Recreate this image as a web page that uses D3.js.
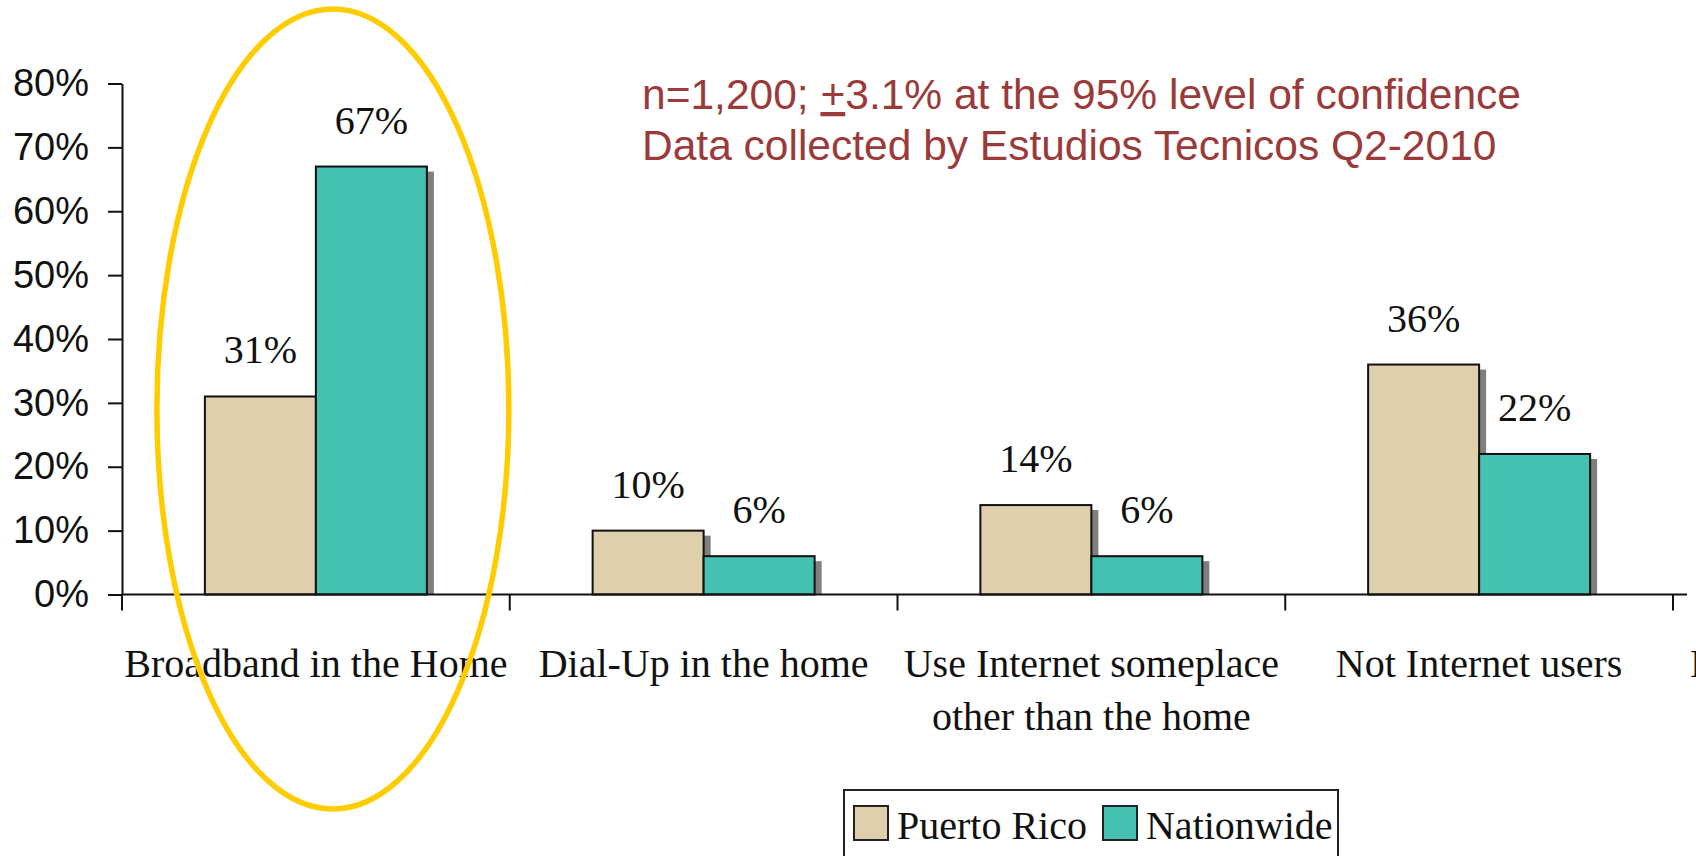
<!DOCTYPE html>
<html>
<head>
<meta charset="utf-8">
<script src="https://cdn.jsdelivr.net/npm/d3@7"></script>
<style>
  body { margin: 0; background: #fff; }
  svg { display: block; }
</style>
</head>
<body>
<svg width="1696" height="856"></svg>
<script>
// Chart data.
const categories = [
  ["Broadband in the Home"],
  ["Dial-Up in the home"],
  ["Use Internet someplace", "other than the home"],
  ["Not Internet users"],
  ["Internet users at home"]   // cut off at the right edge
];
const seriesNames = ["Puerto Rico", "Nationwide"];
const seriesColors = ["#dfcfad", "#45c1b1"];
const puertoRico = [0.31, 0.10, 0.14, 0.36];
const nationwide = [0.67, 0.06, 0.06, 0.22];
const yTicks = [0, 0.1, 0.2, 0.3, 0.4, 0.5, 0.6, 0.7, 0.8];
const noteLines = ["n=1,200; ", "+", "3.1% at the 95% level of confidence"];
const noteLine2 = "Data collected by Estudios Tecnicos Q2-2010";

// Layout.
let svg = d3.select("svg");
let plotLeft = 122, plotTop = 83.5, base = 594.5, band = 387.75, barW = 111;
let axisRight = 1687;
let serif = "'Liberation Serif', 'Times New Roman', serif";
let sans = "'Liberation Sans', Arial, sans-serif";

let x = d3.scaleBand()
  .domain(d3.range(categories.length))
  .range([plotLeft, plotLeft + band * categories.length]);
let xs = d3.scaleBand()
  .domain(d3.range(seriesNames.length))
  .range([band / 2 - barW, band / 2 + barW]);
let y = d3.scaleLinear().domain([0, 0.8]).range([base, plotTop]);

// y axis
let yAxis = svg.append("g")
  .attr("transform", `translate(${plotLeft},0)`)
  .call(d3.axisLeft(y).tickValues(yTicks).tickFormat(d3.format(".0%"))
    .tickSize(14).tickSizeOuter(0).tickPadding(19));
yAxis.select(".domain").attr("stroke", "#111").attr("stroke-width", 2);
yAxis.selectAll(".tick line").attr("stroke", "#111").attr("stroke-width", 2);
yAxis.selectAll(".tick text")
  .attr("font-family", sans).attr("font-size", 38).attr("fill", "#111");

// bars, one group per category
let rows = puertoRico.map((v, i) => [v, nationwide[i]]);
let groups = svg.selectAll("g.cat").data(rows).join("g")
  .attr("class", "cat")
  .attr("transform", (d, i) => `translate(${x(i)},0)`);

groups.each(function (d) {
  let g = d3.select(this);
  d.forEach((v, s) => {
    // drop shadow first
    g.append("rect")
      .attr("x", xs(s) + 7).attr("y", y(v) + 5)
      .attr("width", xs.bandwidth()).attr("height", base - y(v) - 5)
      .attr("fill", "#7f7f7f");
  });
  d.forEach((v, s) => {
    g.append("rect")
      .attr("x", xs(s)).attr("y", y(v))
      .attr("width", xs.bandwidth()).attr("height", base - y(v))
      .attr("fill", seriesColors[s])
      .attr("stroke", "#111").attr("stroke-width", 2);
    g.append("text")
      .attr("x", xs(s) + xs.bandwidth() / 2).attr("y", y(v) - 33)
      .attr("text-anchor", "middle")
      .attr("font-family", serif).attr("font-size", 40).attr("fill", "#111")
      .text(d3.format(".0%")(v));
  });
});

// x axis line and tick marks between categories
svg.append("line")
  .attr("x1", plotLeft).attr("x2", axisRight).attr("y1", base).attr("y2", base)
  .attr("stroke", "#111").attr("stroke-width", 2);
svg.selectAll("line.xtick").data(d3.range(categories.length))
  .join("line").attr("class", "xtick")
  .attr("x1", i => x(i)).attr("x2", i => x(i))
  .attr("y1", base).attr("y2", base + 16)
  .attr("stroke", "#111").attr("stroke-width", 2);

// category labels
svg.selectAll("text.cat").data(categories).join("text")
  .attr("class", "cat")
  .attr("text-anchor", "middle")
  .attr("font-family", serif).attr("font-size", 40).attr("fill", "#111")
  .each(function (lines, i) {
    d3.select(this).selectAll("tspan").data(lines).join("tspan")
      .attr("x", x(i) + band / 2)
      .attr("y", (l, j) => 677 + j * 53)
      .text(l => l);
  });

// highlight ellipse round the first category
svg.append("ellipse")
  .attr("cx", x(0) + band / 2 + 17).attr("cy", 409)
  .attr("rx", 176).attr("ry", 400)
  .attr("fill", "none").attr("stroke", "#ffcc00").attr("stroke-width", 5.5);

// note in the top right
let note = svg.append("g")
  .attr("font-family", sans).attr("font-size", 42.5).attr("fill", "#9b3a3a");
let t1 = note.append("text").attr("x", 642).attr("y", 109);
t1.selectAll("tspan").data(noteLines).join("tspan")
  .attr("text-decoration", (d, i) => i === 1 ? "underline" : null)
  .text(d => d);
note.append("text").attr("x", 642).attr("y", 160).text(noteLine2);

// legend
let legend = svg.append("g");
legend.append("rect")
  .attr("x", 844).attr("y", 790).attr("width", 494).attr("height", 100)
  .attr("fill", "#fff").attr("stroke", "#222").attr("stroke-width", 2);
let lx = 854;
seriesNames.forEach((name, s) => {
  legend.append("rect")
    .attr("x", lx).attr("y", 806).attr("width", 34).attr("height", 34)
    .attr("fill", seriesColors[s]).attr("stroke", "#222").attr("stroke-width", 2);
  let t = legend.append("text")
    .attr("x", lx + 43).attr("y", 839)
    .attr("font-family", serif).attr("font-size", 40).attr("fill", "#111")
    .text(name);
  lx += 43 + t.node().getComputedTextLength() + 16;
});
</script>
</body>
</html>
